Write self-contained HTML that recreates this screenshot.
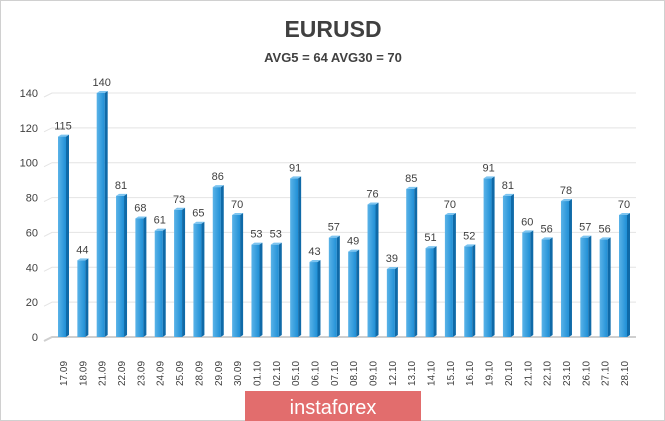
<!DOCTYPE html>
<html><head><meta charset="utf-8"><style>
html,body{margin:0;padding:0;background:#fff;}
svg{display:block;font-family:"Liberation Sans",Arial,sans-serif;}
</style></head><body>
<svg id="chart" width="665" height="421" viewBox="0 0 665 421">
<defs>
<linearGradient id="bf" x1="0" x2="1" y1="0" y2="0"><stop offset="0" stop-color="#5ab3e8"/><stop offset="1" stop-color="#1f8fd6"/></linearGradient>
</defs>
<rect x="0.5" y="0.5" width="664" height="420" fill="#fff" stroke="#d0d0d0"/>
<text x="333" y="37" text-anchor="middle" font-size="23" font-weight="bold" fill="#404040">EURUSD</text>
<text x="333" y="62" text-anchor="middle" font-size="13" font-weight="bold" fill="#404040">AVG5 = 64 AVG30 = 70</text>
<g id="grid"></g><g id="bars"></g><g id="xlabels"></g>
<rect x="245" y="391" width="176" height="30" fill="#e26d6d"/>
<text x="333" y="414" text-anchor="middle" font-size="20" fill="#fff">instaforex</text>
</svg>
<script>
const categories=["17.09","18.09","21.09","22.09","23.09","24.09","25.09","28.09","29.09","30.09","01.10","02.10","05.10","06.10","07.10","08.10","09.10","12.10","13.10","14.10","15.10","16.10","19.10","20.10","21.10","22.10","23.10","26.10","27.10","28.10"];
const values=[115,44,140,81,68,61,73,65,86,70,53,53,91,43,57,49,76,39,85,51,70,52,91,81,60,56,78,57,56,70];
const yTicks=[0,20,40,60,80,100,120,140];
const NS="http://www.w3.org/2000/svg";
const y0=337,yTop=93,yMax=140;
function yPos(v){return y0-(v/yMax)*(y0-yTop);}
function xPos(i){return 63+i*(624-63)/(categories.length-1);}
function mk(t,a,p){const e=document.createElementNS(NS,t);for(const k in a)e.setAttribute(k,a[k]);p.appendChild(e);return e;}
const grid=document.getElementById('grid'),bars=document.getElementById('bars'),xl=document.getElementById('xlabels');
yTicks.forEach(v=>{const y=yPos(v);
 const l=mk('polyline',{points:`44,${y+4} 52,${y} 636,${y}`,fill:'none',stroke:v===0?'#cfcfcf':'#e4e4e4','stroke-width':v===0?2:1},grid);
 
 
 const t=mk('text',{x:38,y:y+4,'text-anchor':'end','font-size':11,fill:'#404040'},grid);t.textContent=v;
 
 
});
values.forEach((v,i)=>{const x=xPos(i),y=yPos(v);
 const g=mk('g',{},bars);
 
 
 mk('rect',{x:x-5,y:y,width:8,height:y0-y,fill:'url(#bf)'},g);
 mk('polygon',{points:`${x+3},${y} ${x+6},${y-2} ${x+6},${y0-2} ${x+3},${y0}`,fill:'#0f6aa8'},g);
 mk('polygon',{points:`${x-5},${y} ${x-2},${y-2} ${x+6},${y-2} ${x+3},${y}`,fill:'#7cc4f0'},g);
 const t=mk('text',{x:x,y:y-7,'text-anchor':'middle','font-size':11,fill:'#404040'},bars);t.textContent=v;
 
 
 const d=mk('text',{transform:`translate(${x+4},386) rotate(-90)`,'font-size':10,fill:'#404040'},xl);d.textContent=categories[i];
 
 
});
</script>
</body></html>
